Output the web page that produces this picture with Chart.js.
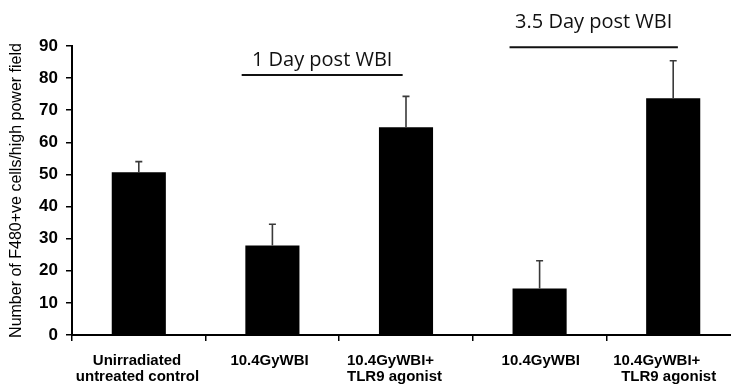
<!DOCTYPE html>
<html>
<head>
<meta charset="utf-8">
<script src="https://cdn.jsdelivr.net/npm/chart.js@4"></script>
<style>
  html, body { margin: 0; padding: 0; background: #fff; overflow: hidden; }
  #wrap { position: absolute; left: 0; top: 0; width: 742px; height: 385px; }
</style>
</head>
<body>
<div id="wrap"><canvas id="myChart" width="742" height="385"></canvas></div>
<script>
// groups along the x axis (each entry = lines of the label)
var categories = [
    ['Unirradiated', 'untreated control'],
    ['10.4GyWBI'],
    ['10.4GyWBI+', 'TLR9 agonist'],
    ['10.4GyWBI'],
    ['10.4GyWBI+', 'TLR9 agonist']
];
// mean number of F480+ve cells per high power field
var meanCells = [50.7, 27.9, 64.7, 14.5, 73.7];
// upper error bar (SD)
var errorUp = [3.3, 6.6, 9.6, 8.6, 11.7];
var yTicks = [0, 10, 20, 30, 40, 50, 60, 70, 80, 90];
var timeGroups = ['1 Day post WBI', '3.5 Day post WBI'];

var labelFont = 'bold 15px "Liberation Sans", Arial, sans-serif';

// error bars, only the upper half
var errorBars = {
    id: 'errorBars',
    afterDatasetsDraw: function (chart) {
        var ctx = chart.ctx;
        var y = chart.scales.y;
        var meta = chart.getDatasetMeta(0);
        ctx.save();
        ctx.strokeStyle = '#3a3a3a';
        ctx.lineWidth = 1.6;
        meta.data.forEach(function (bar, i) {
            var top = y.getPixelForValue(meanCells[i] + errorUp[i]);
            ctx.beginPath();
            ctx.moveTo(bar.x, bar.y);
            ctx.lineTo(bar.x, top);
            ctx.moveTo(bar.x - 3.5, top);
            ctx.lineTo(bar.x + 3.5, top);
            ctx.stroke();
        });
        ctx.restore();
    }
};

// x labels, drawn by hand since the lines are not centred alike
var xLabels = {
    id: 'xLabels',
    afterDraw: function (chart) {
        var ctx = chart.ctx;
        var x = chart.scales.x;
        var base = chart.chartArea.bottom;
        // left edge of each line, relative to the category centre
        var starts = [[-46, -63], [-42], [-59, -59], [-38], [-60, -52]];
        ctx.save();
        ctx.font = labelFont;
        ctx.fillStyle = '#000';
        ctx.textAlign = 'left';
        ctx.textBaseline = 'middle';
        categories.forEach(function (lines, i) {
            var cx = x.getPixelForValue(i);
            lines.forEach(function (t, j) {
                ctx.fillText(t, cx + starts[i][j], base + 26 + j * 16);
            });
        });
        ctx.restore();
    }
};

// "1 Day" / "3.5 Day" brackets above the bars
var groupMarks = {
    id: 'groupMarks',
    afterDraw: function (chart) {
        var ctx = chart.ctx;
        var x = chart.scales.x;
        var y = chart.scales.y;
        var spans = [[0.77, 1.975, 81, 85.7], [2.775, 4.035, 89.6, 97.3]];
        ctx.save();
        ctx.strokeStyle = '#111';
        ctx.lineWidth = 2;
        ctx.fillStyle = '#111';
        ctx.font = '20px "Open Sans", sans-serif';
        ctx.textAlign = 'center';
        ctx.textBaseline = 'middle';
        spans.forEach(function (s, i) {
            var x0 = x.getPixelForValue(s[0]);
            var x1 = x.getPixelForValue(s[1]);
            var ly = y.getPixelForValue(s[2]);
            ctx.beginPath();
            ctx.moveTo(x0, ly);
            ctx.lineTo(x1, ly);
            ctx.stroke();
            ctx.fillText(timeGroups[i], (x0 + x1) / 2, y.getPixelForValue(s[3]));
        });
        ctx.restore();
    }
};

var ctx = document.getElementById('myChart').getContext('2d');
var chart = new Chart(ctx, {
    type: 'bar',
    data: {
        labels: categories,
        datasets: [{
            data: meanCells,
            backgroundColor: '#000',
            borderWidth: 0,
            barPercentage: 0.405,
            categoryPercentage: 1
        }]
    },
    options: {
        responsive: false,
        animation: false,
        layout: { padding: { left: 0, right: 2, top: 46, bottom: 44 } },
        plugins: {
            legend: { display: false },
            tooltip: { enabled: false }
        },
        scales: {
            x: {
                grid: { offset: true, drawOnChartArea: false, tickLength: 6, color: '#000', lineWidth: 1.5 },
                border: { color: '#000', width: 2 },
                ticks: { display: false }
            },
            y: {
                min: 0,
                max: 90,
                afterBuildTicks: function (scale) {
                    scale.ticks = yTicks.map(function (v) { return { value: v }; });
                },
                afterFit: function (scale) { scale.width = 72; },
                grid: { drawOnChartArea: false, tickLength: 6, color: '#000', lineWidth: 1.5 },
                border: { color: '#000', width: 2 },
                ticks: {
                    color: '#000',
                    padding: 8,
                    font: { family: '"Liberation Sans", Arial, sans-serif', size: 17, weight: 'bold' }
                },
                title: {
                    display: true,
                    text: 'Number of F480+ve cells/high power field',
                    color: '#000',
                    padding: { top: 7, bottom: 2 },
                    font: { family: '"Liberation Sans", Arial, sans-serif', size: 16 }
                }
            }
        }
    },
    plugins: [errorBars, xLabels, groupMarks]
});
</script>
</body>
</html>
